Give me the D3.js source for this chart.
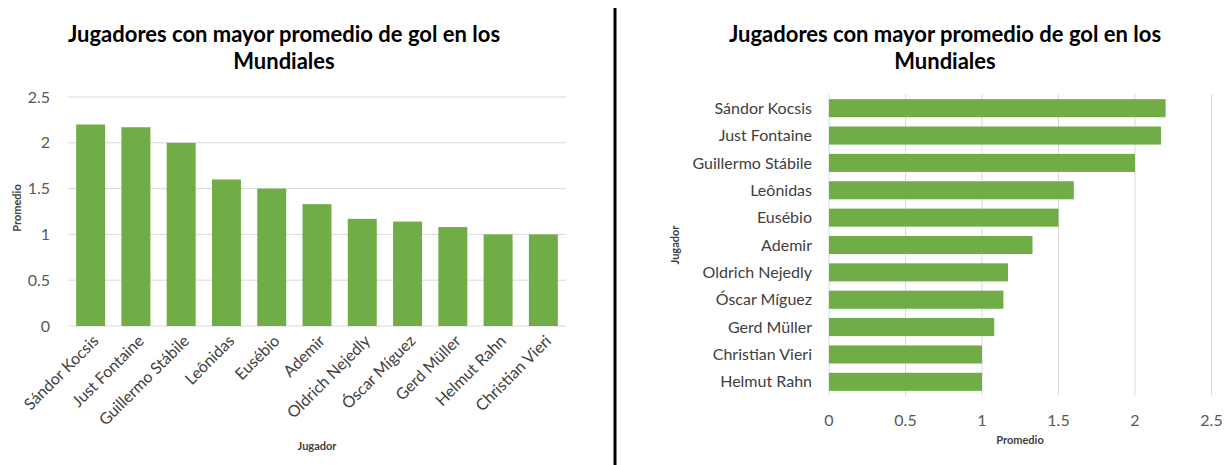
<!DOCTYPE html>
<html>
<head>
<meta charset="utf-8">
<script src="https://d3js.org/d3.v7.min.js"></script>
<style>
  body { margin: 0; background: #fff; }
  text { font-family: Lato, "Open Sans", sans-serif; }
</style>
</head>
<body>
<div id="my_dataviz"></div>
<script>
// data
const jugadoresCol = ["Sándor Kocsis", "Just Fontaine", "Guillermo Stábile", "Leônidas", "Eusébio",
    "Ademir", "Oldrich Nejedly", "Óscar Míguez", "Gerd Müller", "Helmut Rahn", "Christian Vieri"];
const promedioCol = [2.2, 2.17, 2.0, 1.6, 1.5, 1.33, 1.17, 1.14, 1.08, 1.0, 1.0];

const jugadoresBar = ["Sándor Kocsis", "Just Fontaine", "Guillermo Stábile", "Leônidas", "Eusébio",
    "Ademir", "Oldrich Nejedly", "Óscar Míguez", "Gerd Müller", "Christian Vieri", "Helmut Rahn"];
const promedioBar = [2.2, 2.17, 2.0, 1.6, 1.5, 1.33, 1.17, 1.14, 1.08, 1.0, 1.0];

const ticks = [0, 0.5, 1, 1.5, 2, 2.5];
const titulo = ["Jugadores con mayor promedio de gol en los", "Mundiales"];

const green = "#70ad47";
const grid = "#d9d9d9";
const tickColor = "#595959";
const labelColor = "#404040";

var svg = d3.select("#my_dataviz")
    .append("svg")
    .attr("width", 1226)
    .attr("height", 465);

// divider between the two charts
svg.append("line")
    .attr("x1", 615).attr("x2", 615)
    .attr("y1", 8).attr("y2", 465)
    .attr("stroke", "#000")
    .attr("stroke-width", 3);

// ---------- Chart 1: columns ----------
var colData = jugadoresCol.map(function(d, i) { return {name: d, value: promedioCol[i]}; });

var x1 = d3.scaleBand()
    .domain(jugadoresCol)
    .range([68, 566])
    .paddingInner(0.36)
    .paddingOuter(0.18);

var y1 = d3.scaleLinear()
    .domain([0, 2.5])
    .range([326, 97]);

// gridlines
svg.append("g")
    .selectAll("line")
    .data(ticks)
    .enter()
    .append("line")
    .attr("x1", 68).attr("x2", 566)
    .attr("y1", function(d) { return y1(d); })
    .attr("y2", function(d) { return y1(d); })
    .attr("stroke", grid)
    .attr("stroke-width", 1);

// y tick labels
svg.append("g")
    .selectAll("text")
    .data(ticks)
    .enter()
    .append("text")
    .attr("x", 50)
    .attr("y", function(d) { return y1(d); })
    .attr("dy", "0.35em")
    .attr("text-anchor", "end")
    .attr("font-size", 16)
    .attr("fill", tickColor)
    .text(function(d) { return d; });

// bars
svg.append("g")
    .selectAll("rect")
    .data(colData)
    .enter()
    .append("rect")
    .attr("x", function(d) { return x1(d.name); })
    .attr("y", function(d) { return y1(d.value); })
    .attr("width", x1.bandwidth())
    .attr("height", function(d) { return y1(0) - y1(d.value); })
    .attr("fill", green);

// rotated category labels
svg.append("g")
    .selectAll("text")
    .data(jugadoresCol)
    .enter()
    .append("text")
    .attr("transform", function(d) {
        return "translate(" + (x1(d) + x1.bandwidth() / 2 + 5) + ",338) rotate(-45)";
    })
    .attr("dy", "0.35em")
    .attr("text-anchor", "end")
    .attr("font-size", 16)
    .attr("fill", labelColor)
    .text(function(d) { return d; });

// axis titles
svg.append("text")
    .attr("x", 317)
    .attr("y", 450)
    .attr("text-anchor", "middle")
    .attr("font-size", 11)
    .attr("font-weight", "bold")
    .attr("fill", labelColor)
    .text("Jugador");

svg.append("text")
    .attr("transform", "translate(21,208) rotate(-90)")
    .attr("text-anchor", "middle")
    .attr("font-size", 11)
    .attr("font-weight", "bold")
    .attr("fill", labelColor)
    .text("Promedio");

// title
svg.append("g")
    .selectAll("text")
    .data(titulo)
    .enter()
    .append("text")
    .attr("x", 284)
    .attr("y", function(d, i) { return 42 + i * 27; })
    .attr("text-anchor", "middle")
    .attr("font-size", 22)
    .attr("font-weight", "bold")
    .attr("fill", "#000")
    .text(function(d) { return d; });

// ---------- Chart 2: horizontal bars ----------
var barData = jugadoresBar.map(function(d, i) { return {name: d, value: promedioBar[i]}; });

var x2 = d3.scaleLinear()
    .domain([0, 2.5])
    .range([829, 1211.5]);

var y2 = d3.scaleBand()
    .domain(jugadoresBar)
    .range([94.5, 395.5])
    .paddingInner(0.34)
    .paddingOuter(0.17);

// vertical gridlines
svg.append("g")
    .selectAll("line")
    .data(ticks)
    .enter()
    .append("line")
    .attr("x1", function(d) { return x2(d); })
    .attr("x2", function(d) { return x2(d); })
    .attr("y1", 94.5).attr("y2", 395.5)
    .attr("stroke", grid)
    .attr("stroke-width", 1);

svg.append("g")
    .selectAll("rect")
    .data(barData)
    .enter()
    .append("rect")
    .attr("x", x2(0))
    .attr("y", function(d) { return y2(d.name); })
    .attr("width", function(d) { return x2(d.value) - x2(0); })
    .attr("height", y2.bandwidth())
    .attr("fill", green);

// category labels
svg.append("g")
    .selectAll("text")
    .data(jugadoresBar)
    .enter()
    .append("text")
    .attr("x", 812)
    .attr("y", function(d) { return y2(d) + y2.bandwidth() / 2; })
    .attr("dy", "0.35em")
    .attr("text-anchor", "end")
    .attr("font-size", 16)
    .attr("fill", labelColor)
    .text(function(d) { return d; });

// x tick labels
svg.append("g")
    .selectAll("text")
    .data(ticks)
    .enter()
    .append("text")
    .attr("x", function(d) { return x2(d); })
    .attr("y", 420)
    .attr("dy", "0.35em")
    .attr("text-anchor", "middle")
    .attr("font-size", 16)
    .attr("fill", tickColor)
    .text(function(d) { return d; });

svg.append("text")
    .attr("x", 1020)
    .attr("y", 444)
    .attr("text-anchor", "middle")
    .attr("font-size", 11)
    .attr("font-weight", "bold")
    .attr("fill", labelColor)
    .text("Promedio");

svg.append("text")
    .attr("transform", "translate(679,245) rotate(-90)")
    .attr("text-anchor", "middle")
    .attr("font-size", 11)
    .attr("font-weight", "bold")
    .attr("fill", labelColor)
    .text("Jugador");

svg.append("g")
    .selectAll("text")
    .data(titulo)
    .enter()
    .append("text")
    .attr("x", 945)
    .attr("y", function(d, i) { return 42 + i * 27; })
    .attr("text-anchor", "middle")
    .attr("font-size", 22)
    .attr("font-weight", "bold")
    .attr("fill", "#000")
    .text(function(d) { return d; });
</script>
</body>
</html>
